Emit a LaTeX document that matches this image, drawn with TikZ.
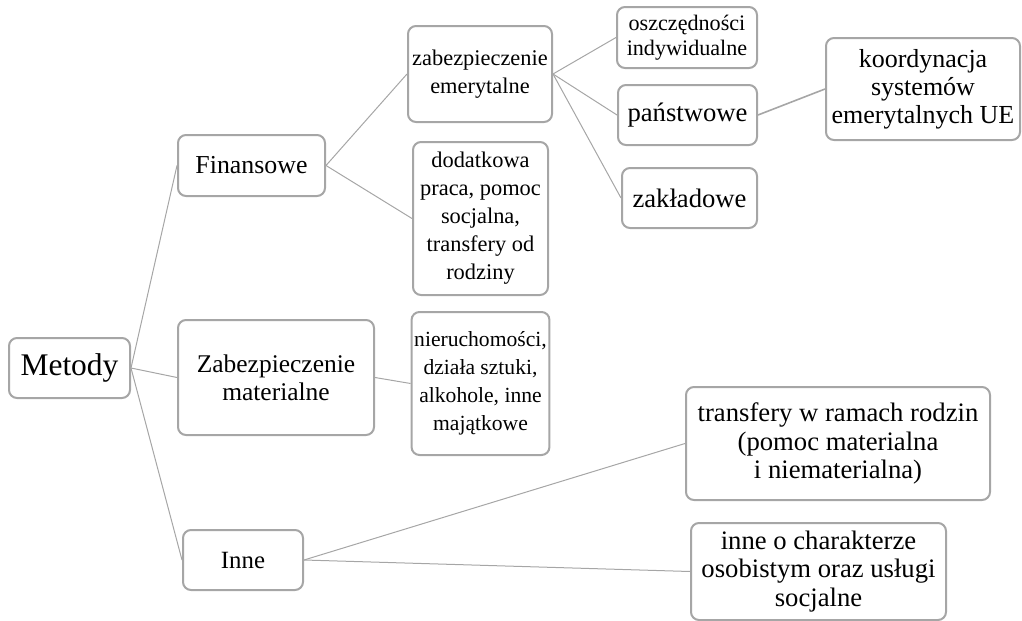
\documentclass[tikz,border=0pt]{standalone}
\usepackage{fontspec}
\setmainfont{Liberation Serif}
\definecolor{boxgray}{HTML}{A6A6A6}
\definecolor{linkgray}{HTML}{A6A6A6}
\tikzset{
  box/.style={draw=boxgray, line width=1.5pt, rounded corners=6pt, fill=white,
    align=center, inner sep=2pt, font=\fontsize{20}{21.5}\selectfont},
  smalltext/.style={font=\fontsize{16.8}{21}\selectfont},
  link/.style={draw=linkgray, line width=0.75pt}
}
\begin{document}
\begin{tikzpicture}[x=0.75pt,y=-0.75pt]
      \useasboundingbox (0,0) rectangle (1022,621);
      \draw
        (69.5,368) node[box, minimum width=90.75pt, minimum height=45pt,
          font=\fontsize{23.6}{25}\selectfont] (metody){Metody}
        (251.5,165.5) node[box, minimum width=110.25pt, minimum height=45.75pt,
          font=\fontsize{19.4}{21}\selectfont] (finansowe){Finansowe}
        (276,377.5) node[box, minimum width=147pt, minimum height=86.25pt,
          font=\fontsize{19.1}{21}\selectfont] (zabmat){Zabezpieczenie\\materialne}
        (243,560) node[box, minimum width=90pt, minimum height=45pt,
          font=\fontsize{18.6}{21}\selectfont] (inne){Inne}
        (480,74) node[box, smalltext, minimum width=108pt, minimum height=72pt] (zabem){zabezpieczenie\\emerytalne}
        (480.5,218.5) node[box, smalltext, minimum width=101.25pt, minimum height=114.75pt] (dodatkowa){dodatkowa\\praca, pomoc\\socjalna,\\transfery od\\rodziny}
        (480.5,383.5) node[box, minimum width=101.25pt, minimum height=107.25pt,
          font=\fontsize{16.2}{21}\selectfont] (nieruch){nieruchomości,\\działa sztuki,\\alkohole, inne\\majątkowe}
        (687,37.5) node[box, minimum width=105pt, minimum height=45.75pt,
          font=\fontsize{16.6}{19}\selectfont] (oszcz){oszczędności\\indywidualne}
        (687.5,115) node[box, minimum width=104.25pt, minimum height=45pt] (panstw){państwowe}
        (689.5,198) node[box, minimum width=101.25pt, minimum height=45pt] (zaklad){zakładowe}
        (923,89) node[box, minimum width=145.5pt, minimum height=76.5pt,
          font=\fontsize{19.5}{21}\selectfont] (koord){koordynacja\\systemów\\emerytalnych UE}
        (838,443.5) node[box, minimum width=228pt, minimum height=84.75pt] (transfery){transfery w ramach rodzin\\(pomoc materialna\\i niematerialna)}
        (818.5,571.5) node[box, minimum width=191.25pt, minimum height=72.75pt] (inneo){inne o charakterze\\osobistym oraz usługi\\socjalne};
      \begin{scope}[link]
        \draw (metody.east) to (finansowe.west);
        \draw (metody.east) to (zabmat.west);
        \draw (metody.east) to (inne.west);
        \draw (finansowe.east) to (zabem.west);
        \draw (finansowe.east) to (dodatkowa.west);
        \draw (zabem.east) to (oszcz.west);
        \draw (zabem.east) to (panstw.west);
        \draw (zabem.east) to (zaklad.west);
        \draw[line width=1.2pt] (panstw.east) to (koord.west);
        \draw (zabmat.east) to (nieruch.west);
        \draw (inne.east) to (transfery.west);
        \draw (inne.east) to (inneo.west);
      \end{scope}
    \end{tikzpicture}
\end{document}
